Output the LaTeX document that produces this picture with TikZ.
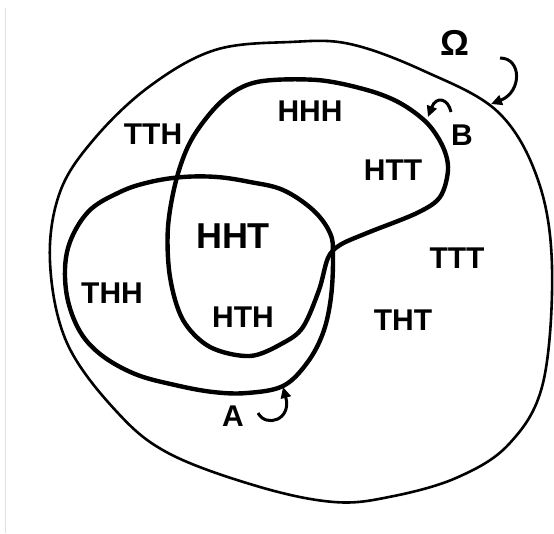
\documentclass[tikz,border=0pt]{standalone}
\usepackage{fontspec}
\setmainfont{Liberation Sans}
\usetikzlibrary{arrows.meta}

\begin{document}
\begin{tikzpicture}[x=1pt, y=-1pt,
  every node/.style={font=\fontsize{30}{32}\selectfont\bfseries, inner sep=0pt},
  outcome/.style={},
  setline/.style={line width=4.4pt, line join=round},
  hook/.style={line width=3pt, -{Triangle[length=11pt,width=10pt]}}]
  \useasboundingbox (0,0) rectangle (554,533);
  \fill[white] (0,0) rectangle (554,533);
  \draw[black!12, line width=1pt] (5,8) -- (5,533);

  % sample space
  \draw[line width=2.6pt] plot[smooth cycle, tension=0.6] coordinates {
    (290,42) (350,44) (424,71) (498,112) (538,180) (552,267) (543,383)
    (509,444) (456,478) (389,497) (334,502) (260,487) (170,454) (117,412)
    (67,343) (50,262) (60,192) (95,138) (150,86) (215,50)};

  % event A
  \draw[setline] plot[smooth cycle, tension=0.6] coordinates {
    (183,177) (217,177) (250,182) (283,190) (313,210) (330,233) (333,255)
    (331,297) (323,333) (307,363) (283,386) (247,393) (213,392) (175,385)
    (135,374) (100,354) (78,328) (66,290) (68,248) (88,212)
    (120,192) (150,182)};

  % event B
  \draw[setline] plot[smooth cycle, tension=0.55] coordinates {
    (193,137) (223,100) (257,82) (317,80) (367,90) (400,103) (427,123)
    (443,147) (448,170) (440,197) (417,213) (367,233) (340,245) (328,258)
    (319,290) (303,327) (283,343) (250,356) (210,347) (183,320) (170,277)
    (168,227) (177,177)};

  % outcomes
  \foreach \o/\x/\y in {TTH/153/134, HHH/310/111, HTT/393/170, TTT/457/258,
                        THH/112/293, HTH/243/317, THT/403/320}{
    \node[outcome] (\o) at (\x,\y) {\o};
  }
  \node[outcome, font=\fontsize{36}{38}\selectfont\bfseries] (HHT) at (233,236) {HHT};

  % names and pointers
  \node[font=\fontsize{36}{38}\selectfont\bfseries] (omega) at (455,43) {Ω};
  \node (labelB) at (462,135) {B};
  \node (labelA) at (233,416) {A};
  \coordinate (omegaTail) at (500,58);
  \coordinate (omegaTip) at (491,104);
  \coordinate (bTail) at (451,112);
  \coordinate (bTip) at (428,117);
  \coordinate (aTail) at (258,413);
  \coordinate (aTip) at (283,387);
  \draw[hook] (omegaTail) .. controls (522,58) and (522,92) .. (omegaTip);
  \draw[hook] (bTail) .. controls (448,98) and (436,96) .. (bTip);
  \draw[hook] (aTail) .. controls (266,428) and (292,420) .. (aTip);
\end{tikzpicture}
\end{document}
